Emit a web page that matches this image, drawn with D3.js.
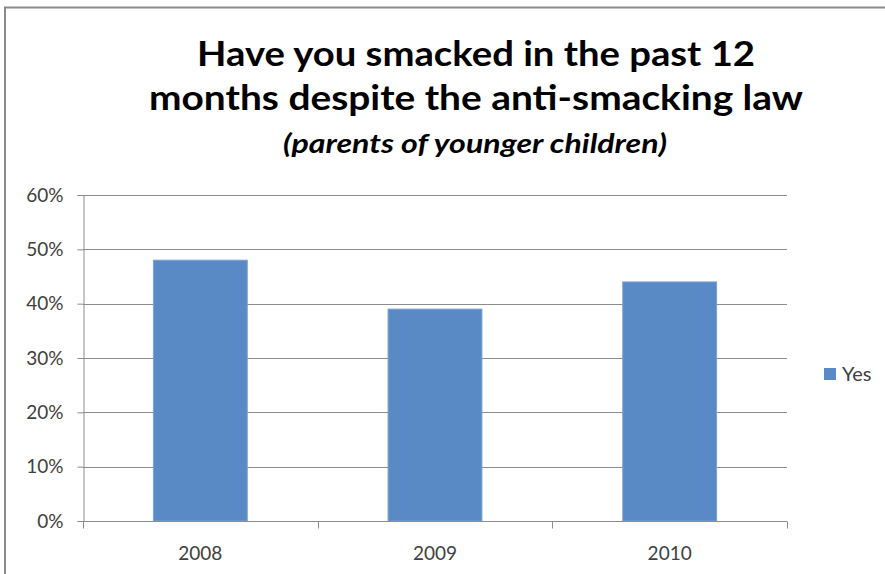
<!DOCTYPE html>
<html>
<head>
<meta charset="utf-8">
<script src="https://cdn.jsdelivr.net/npm/d3@7"></script>
<style>
  body { margin: 0; background: #fff; }
  svg { display: block; }
</style>
</head>
<body>
<div id="chart"></div>
<script>
const years = ["2008", "2009", "2010"];
const yesValues = [0.48, 0.39, 0.44];
const yTicks = [0, 0.1, 0.2, 0.3, 0.4, 0.5, 0.6];
const seriesName = "Yes";
const titleLines = ["Have you smacked in the past 12", "months despite the anti-smacking law"];
const subtitle = "(parents of younger children)";

const W = 885, H = 574;
const margin = { top: 195, right: 98, bottom: 53, left: 83 };
const width = W - margin.left - margin.right;
const height = H - margin.top - margin.bottom;
const font = "Lato, 'Open Sans', sans-serif";

const svg = d3.select("#chart").append("svg")
  .attr("width", W)
  .attr("height", H)
  .style("font-family", font);

// chart frame (runs off the right and bottom of the picture)
svg.append("rect")
  .attr("x", 5).attr("y", 7.5)
  .attr("width", 900).attr("height", 600)
  .attr("fill", "none")
  .attr("stroke", "#8a8a8a")
  .attr("stroke-width", 2);

// title
const titleWidths = [558, 654];
svg.selectAll(".title")
  .data(titleLines)
  .enter()
  .append("text")
  .attr("class", "title")
  .attr("x", 476)
  .attr("y", (d, i) => 66 + i * 44)
  .attr("text-anchor", "middle")
  .attr("textLength", (d, i) => titleWidths[i])
  .attr("lengthAdjust", "spacingAndGlyphs")
  .style("font-size", "34px")
  .style("font-weight", "bold")
  .attr("fill", "#000")
  .text((d) => d);

svg.append("text")
  .attr("x", 475)
  .attr("y", 153)
  .attr("text-anchor", "middle")
  .attr("textLength", 384)
  .attr("lengthAdjust", "spacingAndGlyphs")
  .style("font-size", "26px")
  .style("font-weight", "bold")
  .style("font-style", "italic")
  .attr("fill", "#000")
  .text(subtitle);

const g = svg.append("g")
  .attr("transform", "translate(" + margin.left + "," + margin.top + ")");

const xScale = d3.scaleBand()
  .domain(years)
  .range([0, width])
  .paddingInner(0.6)
  .paddingOuter(0.3);

const xBand = d3.scaleBand().domain(years).range([0, width]);

const yScale = d3.scaleLinear()
  .domain([0, 0.6])
  .range([height, 0]);

// gridlines
g.append("g")
  .selectAll("line")
  .data(yTicks.slice(1))
  .enter()
  .append("line")
  .attr("x1", 0)
  .attr("x2", width)
  .attr("y1", (d) => Math.round(yScale(d)) + 0.5)
  .attr("y2", (d) => Math.round(yScale(d)) + 0.5)
  .attr("stroke", "#8c8c8c")
  .attr("stroke-width", 1);

// y axis
const yAxis = g.append("g")
  .attr("transform", "translate(0.5,0)")
  .call(d3.axisLeft(yScale).tickValues(yTicks).tickFormat(d3.format(".0%")).tickSize(6).tickPadding(14));
yAxis.select(".domain").attr("stroke", "#8c8c8c");
yAxis.selectAll(".tick line").attr("stroke", "#8c8c8c");
yAxis.selectAll(".tick text")
  .style("font-size", "19px")
  .style("font-family", font)
  .attr("fill", "#404040");

// bars
g.selectAll(".bar")
  .data(years)
  .enter()
  .append("rect")
  .attr("class", "bar")
  .attr("x", (d) => xScale(d))
  .attr("width", xScale.bandwidth())
  .attr("y", (d, i) => yScale(yesValues[i]))
  .attr("height", (d, i) => height - yScale(yesValues[i]))
  .attr("fill", "#5a8ac6")
  .attr("stroke", "#7ca2d2")
  .attr("stroke-width", 1);

// x axis
const xAxisG = g.append("g")
  .attr("transform", "translate(0," + (Math.round(height) + 0.5) + ")");
xAxisG.append("line")
  .attr("x1", 0).attr("x2", width)
  .attr("stroke", "#8c8c8c");
xAxisG.selectAll(".xtick")
  .data(years.concat(["end"]))
  .enter()
  .append("line")
  .attr("x1", (d, i) => Math.round(i < years.length ? xBand(d) : width) + 0.5)
  .attr("x2", (d, i) => Math.round(i < years.length ? xBand(d) : width) + 0.5)
  .attr("y1", 0).attr("y2", 7)
  .attr("stroke", "#8c8c8c");
xAxisG.selectAll(".xlabel")
  .data(years)
  .enter()
  .append("text")
  .attr("x", (d) => xBand(d) + xBand.bandwidth() / 2)
  .attr("y", 38)
  .attr("text-anchor", "middle")
  .style("font-size", "19px")
  .attr("fill", "#404040")
  .text((d) => d);

// legend
const legend = svg.append("g").attr("transform", "translate(824,368)");
legend.append("rect")
  .attr("width", 12).attr("height", 12)
  .attr("fill", "#5a8ac6");
legend.append("text")
  .attr("x", 18).attr("y", 13)
  .style("font-size", "20px")
  .attr("fill", "#404040")
  .text(seriesName);
</script>
</body>
</html>
